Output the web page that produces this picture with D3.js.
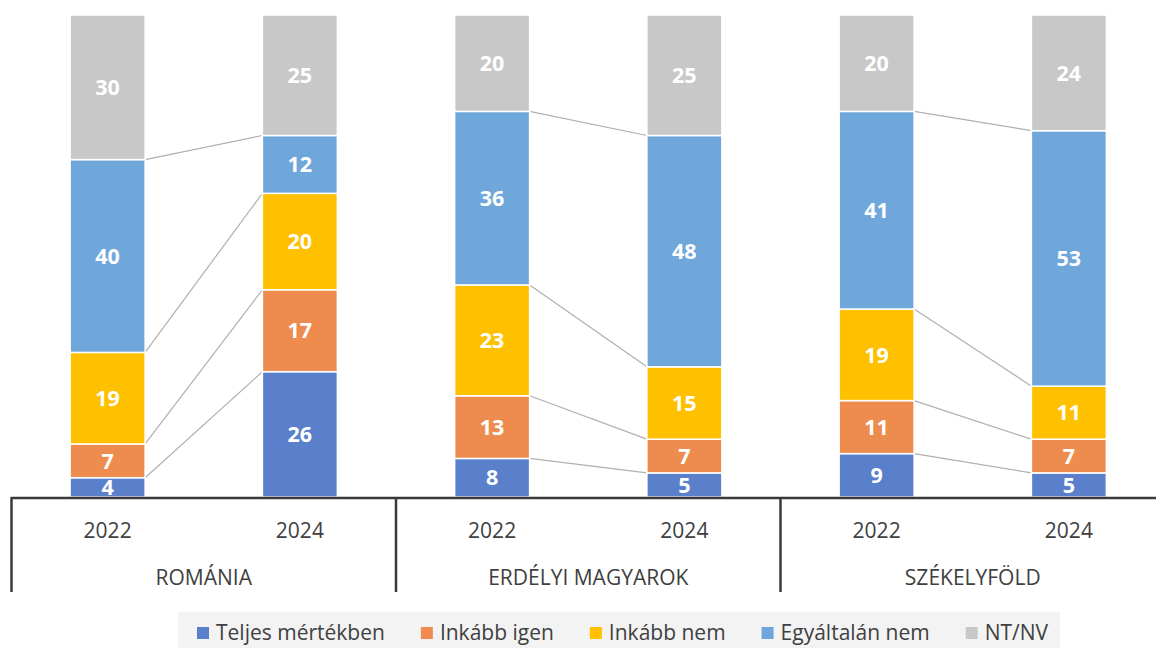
<!DOCTYPE html>
<html>
<head>
<meta charset="utf-8">
<script src="https://cdn.jsdelivr.net/npm/d3@7"></script>
<style>
  html, body { margin: 0; padding: 0; background: #fff; }
  svg { display: block; font-family: "Open Sans", "Noto Sans", sans-serif; }
</style>
</head>
<body>
<svg id="chart" width="1156" height="648"></svg>
<script>
const groups = ["ROMÁNIA", "ERDÉLYI MAGYAROK", "SZÉKELYFÖLD"];
const years = ["2022", "2024"];
const seriesNames = ["Teljes mértékben", "Inkább igen", "Inkább nem", "Egyáltalán nem", "NT/NV"];
const seriesColors = ["#5a80cc", "#ee8c4f", "#ffc000", "#6fa7db", "#c8c8c8"];
// values per bar: ROMÁNIA 2022, 2024, ERDÉLYI 2022, 2024, SZÉKELYFÖLD 2022, 2024
const teljes      = [4, 26, 8, 5, 9, 5];
const inkabbIgen  = [7, 17, 13, 7, 11, 7];
const inkabbNem   = [19, 20, 23, 15, 19, 11];
const egyaltalan  = [40, 12, 36, 48, 41, 53];
const ntnv        = [30, 25, 20, 25, 20, 24];
const seriesValues = [teljes, inkabbIgen, inkabbNem, egyaltalan, ntnv];

const svg = d3.select("#chart");
const bars = [];
groups.forEach((g, gi) => years.forEach((yr, yi) => bars.push({ group: g, year: yr, idx: gi * 2 + yi, key: g + "|" + yr })));

const x = d3.scaleBand().domain(bars.map(b => b.key)).range([11.5, 1165]).paddingInner(0.61).paddingOuter(0.305);
const y = d3.scaleLinear().domain([0, 100]).range([497, 15]);

const stackRows = bars.map(b => {
  const row = { key: b.key };
  seriesNames.forEach((s, si) => row[s] = seriesValues[si][b.idx]);
  return row;
});
const stacked = d3.stack().keys(seriesNames)(stackRows);

// series lines
const lineG = svg.append("g");
stacked.forEach((layer, si) => {
  if (si === seriesNames.length - 1) return;
  groups.forEach((g, gi) => {
    const a = layer[gi * 2], b = layer[gi * 2 + 1];
    lineG.append("line")
      .attr("x1", x(a.data.key) + x.bandwidth())
      .attr("y1", y(a[1]))
      .attr("x2", x(b.data.key))
      .attr("y2", y(b[1]))
      .attr("stroke", "#b0b0b0")
      .attr("stroke-width", 1.2);
  });
});

// bars
const barG = svg.append("g");
stacked.forEach((layer, si) => {
  barG.selectAll(null).data(layer).enter().append("rect")
    .attr("x", d => x(d.data.key))
    .attr("width", x.bandwidth())
    .attr("y", d => y(d[1]))
    .attr("height", d => y(d[0]) - y(d[1]))
    .attr("fill", seriesColors[si])
    .attr("stroke", "#fff")
    .attr("stroke-width", 1.5);
  barG.selectAll(null).data(layer).enter().append("text")
    .attr("x", d => x(d.data.key) + x.bandwidth() / 2)
    .attr("y", d => (y(d[0]) + y(d[1])) / 2)
    .attr("dy", "0.36em")
    .attr("text-anchor", "middle")
    .attr("fill", "#fff")
    .attr("font-weight", "bold")
    .attr("font-size", 21.5)
    .text(d => d[1] - d[0]);
});

// axis
const axisG = svg.append("g").attr("stroke", "#3a3a3a");
axisG.append("line").attr("x1", 11).attr("x2", 1156).attr("y1", 498).attr("y2", 498).attr("stroke-width", 2.5);
const step = x.step();
groups.forEach((g, gi) => {
  const sx = x(bars[gi * 2].key) - (step - x.bandwidth()) / 2;
  axisG.append("line").attr("x1", sx).attr("x2", sx).attr("y1", 497).attr("y2", 592).attr("stroke-width", 2.5);
});
const labelG = svg.append("g").attr("fill", "#404040").attr("font-size", 21).attr("text-anchor", "middle");
bars.forEach(b => {
  labelG.append("text").attr("x", x(b.key) + x.bandwidth() / 2).attr("y", 538).text(b.year);
});
groups.forEach((g, gi) => {
  const cx = (x(bars[gi * 2].key) + x(bars[gi * 2 + 1].key) + x.bandwidth()) / 2;
  labelG.append("text").attr("x", cx).attr("y", 585).text(g);
});

// legend
const legG = svg.append("g");
legG.append("rect").attr("x", 178).attr("y", 612).attr("width", 882).attr("height", 36).attr("fill", "#f3f3f3");
let lx = 197;
seriesNames.forEach((s, si) => {
  legG.append("rect").attr("x", lx).attr("y", 627).attr("width", 12).attr("height", 12).attr("fill", seriesColors[si]);
  const t = legG.append("text").attr("x", lx + 19).attr("y", 640).attr("font-size", 21).attr("fill", "#404040").text(s);
  lx += 19 + t.node().getComputedTextLength() + 36;
});
</script>
</body>
</html>
